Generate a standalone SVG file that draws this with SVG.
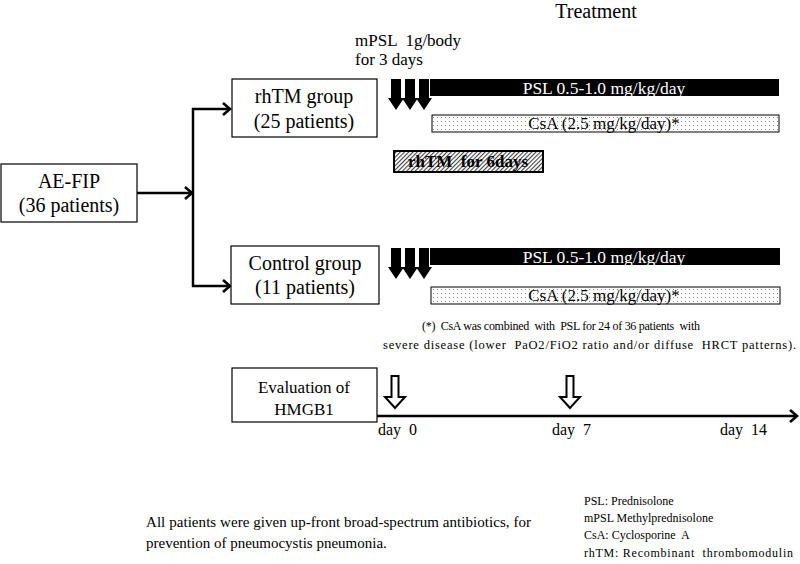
<svg xmlns="http://www.w3.org/2000/svg" width="800" height="564" viewBox="0 0 800 564" font-family="'Liberation Serif', 'DejaVu Serif', serif">
<style>
text{font-family:'Liberation Serif','DejaVu Serif',serif;fill:#000;white-space:pre}
.box{fill:#fff;stroke:#000;stroke-width:1.2}
.big{font-size:20px}
.mid{font-size:16px}
.sm{font-size:12px}
.conn{fill:none;stroke:#000;stroke-width:2.5}
.bar{fill:#000}
.dots{fill:url(#dots);stroke:#000;stroke-width:1}
.hatch{fill:url(#hatch);stroke:#000;stroke-width:2}
.hollow{fill:#fff;stroke:#000;stroke-width:2;stroke-linejoin:miter}
</style>
<defs>
<pattern id="dots" width="4" height="4" patternUnits="userSpaceOnUse">
<rect width="4" height="4" fill="#fff"/>
<rect x="1" y="1" width="1" height="1" fill="#888"/>
</pattern>
<pattern id="hatch" width="3" height="3" patternUnits="userSpaceOnUse" patternTransform="rotate(45)">
<rect width="3" height="3" fill="#fff"/>
<rect width="1.1" height="3" fill="#444"/>
</pattern>
<marker id="chev" markerWidth="12" markerHeight="14" refX="9" refY="7" orient="auto" markerUnits="userSpaceOnUse">
<polyline points="2,1 9,7 2,13" fill="none" stroke="#000" stroke-width="2.6"/>
</marker>
<path id="darr" d="M-5,0 H5 V19 H8 L0,31 L-8,19 H-5 Z"/>
</defs>

<text x="596" y="18" style="font-size:20px" text-anchor="middle">Treatment</text>
<text x="355" y="46" style="font-size:17px">mPSL  1g/body</text>
<text x="355" y="65" style="font-size:17px">for 3 days</text>

<g id="connectors">
<line class="conn" x1="137" y1="193" x2="192" y2="193" marker-end="url(#chev)"/>
<line class="conn" x1="193" y1="108" x2="193" y2="287"/>
<line class="conn" x1="192" y1="109" x2="230" y2="109" marker-end="url(#chev)"/>
<line class="conn" x1="192" y1="286" x2="230" y2="286" marker-end="url(#chev)"/>
<line class="conn" x1="377" y1="416" x2="797" y2="416" marker-end="url(#chev)"/>
</g>

<g id="aefip">
<rect class="box" x="1" y="164" width="136" height="58"/>
<text class="big" x="69" y="188" text-anchor="middle">AE-FIP</text>
<text class="big" x="69" y="212" text-anchor="middle">(36 patients)</text>
</g>

<g id="rhtm-group">
<rect class="box" x="232" y="79" width="145" height="58"/>
<text class="big" x="304" y="103" text-anchor="middle">rhTM group</text>
<text class="big" x="304" y="128" text-anchor="middle">(25 patients)</text>
</g>

<g id="control-group">
<rect class="box" x="231" y="246" width="148" height="58"/>
<text class="big" x="305" y="270" text-anchor="middle">Control group</text>
<text class="big" x="305" y="294" text-anchor="middle">(11 patients)</text>
</g>

<g id="mpsl-arrows-rhtm">
<use href="#darr" x="396" y="79"/>
<use href="#darr" x="410" y="79"/>
<use href="#darr" x="424" y="79"/>
</g>
<g id="psl-rhtm">
<rect class="bar" x="430" y="79" width="349" height="17"/>
<text x="604" y="94" text-anchor="middle" style="fill:#fff;font-size:17.5px">PSL 0.5-1.0 mg/kg/day</text>
</g>
<g id="csa-rhtm">
<rect class="dots" x="432" y="115" width="347" height="17"/>
<text x="604" y="129" text-anchor="middle" style="font-size:17px">CsA (2.5 mg/kg/day)*</text>
</g>
<g id="rhtm-6days">
<rect class="hatch" x="394" y="151" width="149" height="21"/>
<text x="468" y="167" text-anchor="middle" style="font-weight:bold;font-size:17px">rhTM  for 6days</text>
</g>

<g id="mpsl-arrows-control">
<use href="#darr" x="396" y="248"/>
<use href="#darr" x="410" y="248"/>
<use href="#darr" x="424" y="248"/>
</g>
<g id="psl-control">
<rect class="bar" x="430" y="248" width="350" height="17"/>
<text x="604" y="263" text-anchor="middle" style="fill:#fff;font-size:17.5px">PSL 0.5-1.0 mg/kg/day</text>
</g>
<g id="csa-control">
<rect class="dots" x="431" y="287" width="349" height="17"/>
<text x="604" y="301" text-anchor="middle" style="font-size:17px">CsA (2.5 mg/kg/day)*</text>
</g>

<g id="footnote">
<text class="sm" x="422" y="330" textLength="278" lengthAdjust="spacing">(*)  CsA was combined  with  PSL for 24 of 36 patients  with</text>
<text x="383" y="349" style="font-size:12.5px" textLength="413" lengthAdjust="spacing">severe disease (lower  PaO2/FiO2 ratio and/or diffuse  HRCT patterns).</text>
</g>

<g id="evaluation">
<rect class="box" x="232" y="368" width="145" height="54"/>
<text x="304" y="393" text-anchor="middle" style="font-size:17px">Evaluation of</text>
<text x="304" y="415" text-anchor="middle" style="font-size:17px">HMGB1</text>
</g>

<g id="eval-arrows">
<path class="hollow" d="M391.5,376 H398.5 V397 H405 L395,408 L385,397 H391.5 Z"/>
<path class="hollow" d="M566.5,376 H573.5 V397 H580 L570,408 L560,397 H566.5 Z"/>
</g>

<g id="day-labels">
<text class="mid" x="378" y="435">day  0</text>
<text class="mid" x="552" y="435">day  7</text>
<text class="mid" x="720" y="435">day  14</text>
</g>

<g id="note">
<text x="146" y="527" style="font-size:15px" textLength="385" lengthAdjust="spacing">All patients were given up-front broad-spectrum antibiotics, for</text>
<text x="146" y="548" style="font-size:15px">prevention of pneumocystis pneumonia.</text>
</g>

<g id="legend">
<text class="sm" x="584" y="505">PSL: Prednisolone</text>
<text class="sm" x="584" y="522">mPSL Methylprednisolone</text>
<text class="sm" x="584" y="539">CsA: Cyclosporine  A</text>
<text class="sm" x="584" y="557" textLength="209" lengthAdjust="spacing">rhTM: Recombinant  thrombomodulin</text>
</g>
</svg>
